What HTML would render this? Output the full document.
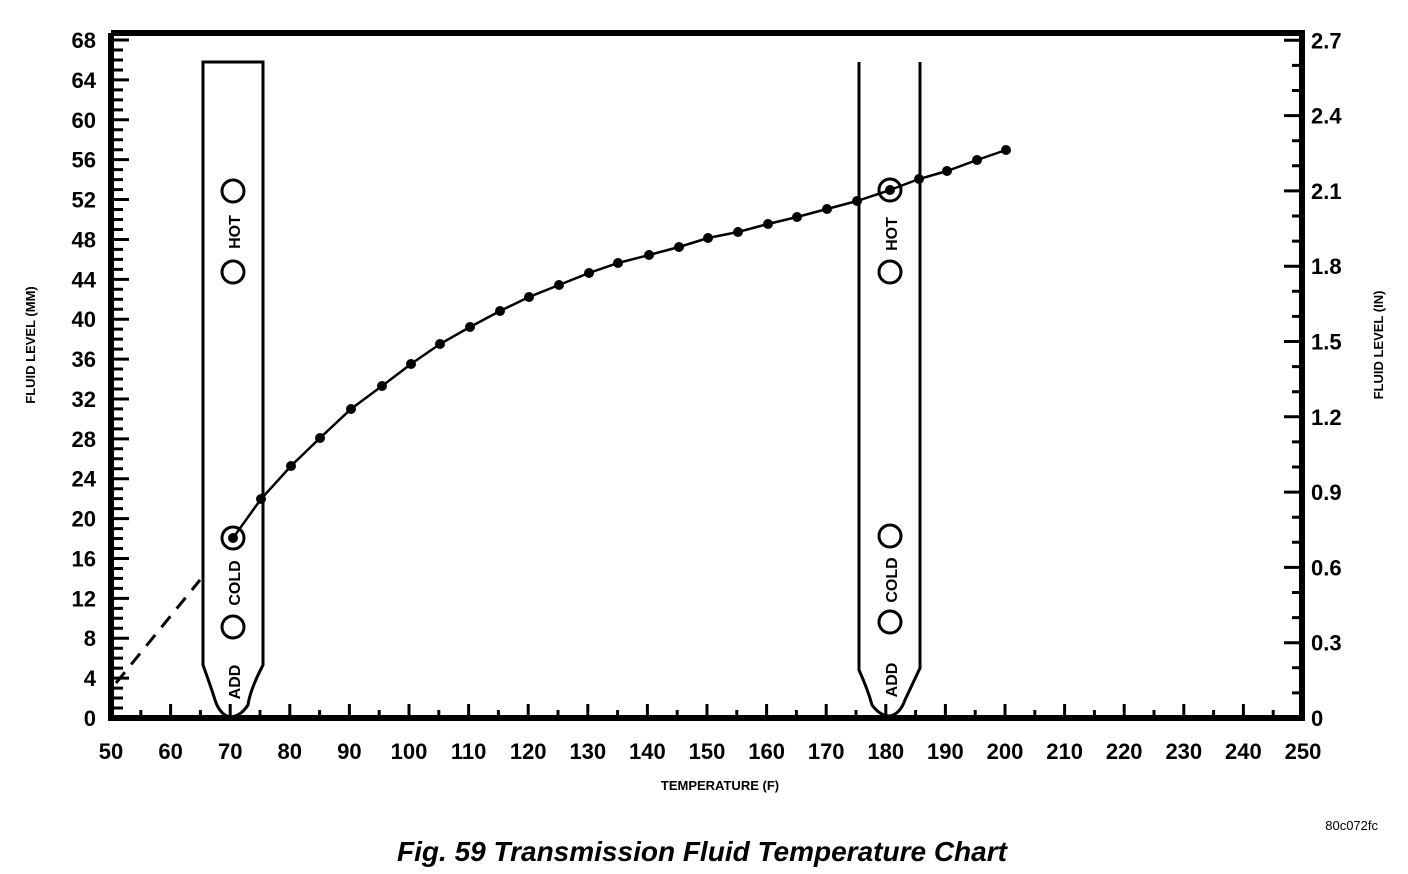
<!DOCTYPE html>
<html><head><meta charset="utf-8"><style>
html,body{margin:0;padding:0;background:#fff;width:1408px;height:874px;overflow:hidden}
svg text{font-family:"Liberation Sans",Arial,sans-serif;font-weight:bold;fill:#000}
</style></head><body>
<svg id="s" width="1408" height="874" viewBox="0 0 1408 874" xmlns="http://www.w3.org/2000/svg">
<g fill="none" stroke="#000">
<path d="M111,33 V718 H1302 V33 H111" stroke-width="6"/>
<path d="M203,615 V62 H263 V665 Q250,690 248,705 Q240,717 230,717 Q220,715 215,700 Q212,690 203,665 V615" stroke-width="3"/>
<path d="M859,62 V670 Q868,690 872,705 Q880,716 890,716 Q900,714 905,700 Q912,685 920,668 V62" stroke-width="3"/>
<path d="M116,683 L200,580" stroke-width="3" stroke-dasharray="14,10"/>
<g stroke-width="3">
<circle cx="233" cy="191" r="11"/><circle cx="233" cy="272" r="11"/><circle cx="233" cy="538" r="11"/><circle cx="233" cy="627" r="11"/>
<circle cx="890" cy="190" r="11"/><circle cx="890" cy="272" r="11"/><circle cx="890" cy="536" r="11"/><circle cx="890" cy="622" r="11"/>
</g>
<polyline id="curve" stroke-width="2.5" points="233,538 261,499 291,466 320,438 351,409 382,386 411,364 440,344 470,327 500,311 529,297 559,285 589,273 618,263 649,255 679,247 708,238 738,232 768,224 797,217 827,209 857,201 890,190 919,179 947,171 977,160 1006,150"/>
<path id="ticks" stroke-width="3"/>
</g>
<g id="dots"></g>
<g id="labels" font-size="22"></g>
<g font-size="16">
<text transform="translate(240,232) rotate(-90)" text-anchor="middle">HOT</text>
<text transform="translate(240,583) rotate(-90)" text-anchor="middle">COLD</text>
<text transform="translate(240,682) rotate(-90)" text-anchor="middle">ADD</text>
<text transform="translate(897,234) rotate(-90)" text-anchor="middle">HOT</text>
<text transform="translate(897,580) rotate(-90)" text-anchor="middle">COLD</text>
<text transform="translate(897,680) rotate(-90)" text-anchor="middle">ADD</text>
</g>
<text x="720" y="790" font-size="13" text-anchor="middle">TEMPERATURE (F)</text>
<text transform="translate(35,345) rotate(-90)" font-size="13" text-anchor="middle">FLUID LEVEL (MM)</text>
<text transform="translate(1383,345) rotate(-90)" font-size="13" text-anchor="middle">FLUID LEVEL (IN)</text>
<text x="1378" y="830" font-size="13" text-anchor="end" style="font-weight:normal">80c072fc</text>
<text x="702" y="861" font-size="28" font-style="italic" text-anchor="middle">Fig. 59 Transmission Fluid Temperature Chart</text>
</svg>
<script>
var NS="http://www.w3.org/2000/svg";
var pts=document.getElementById("curve").getAttribute("points").trim().split(/\s+/);
var dg=document.getElementById("dots");
pts.forEach(function(p){var a=p.split(",");var c=document.createElementNS(NS,"circle");c.setAttribute("cx",a[0]);c.setAttribute("cy",a[1]);c.setAttribute("r",5);dg.appendChild(c);});
var d="";
function Y(v){return 718-v*9.97;}
for(var v=1;v<=68;v++){var y=Y(v);d+="M111,"+y+"h"+(v%4==0?18:12);}
for(var i=1;i<=9;i++){var y=718-i*0.3*251;d+="M1302,"+y+"h-18";}
for(var i=1;i<=27;i++){var y=718-i*0.1*251;if(i%3)d+="M1302,"+y+"h-10";}
for(var t=55;t<250;t+=5){var x=111+(t-50)*5.96;d+="M"+x+",718v"+(t%10==0?-14:-8);}
document.getElementById("ticks").setAttribute("d",d);
var lg=document.getElementById("labels");
function T(x,y,s,a){var e=document.createElementNS(NS,"text");e.setAttribute("x",x);e.setAttribute("y",y);e.setAttribute("text-anchor",a);e.textContent=s;lg.appendChild(e);}
for(var v=0;v<=68;v+=4)T(96,Y(v)+8,v,"end");
for(var i=0;i<=9;i++)T(1311,718-i*0.3*251+8,i==0?"0":(i*0.3).toFixed(1),"start");
for(var t=50;t<=250;t+=10)T(111+(t-50)*5.96,759,t,"middle");
</script>
</body></html>
